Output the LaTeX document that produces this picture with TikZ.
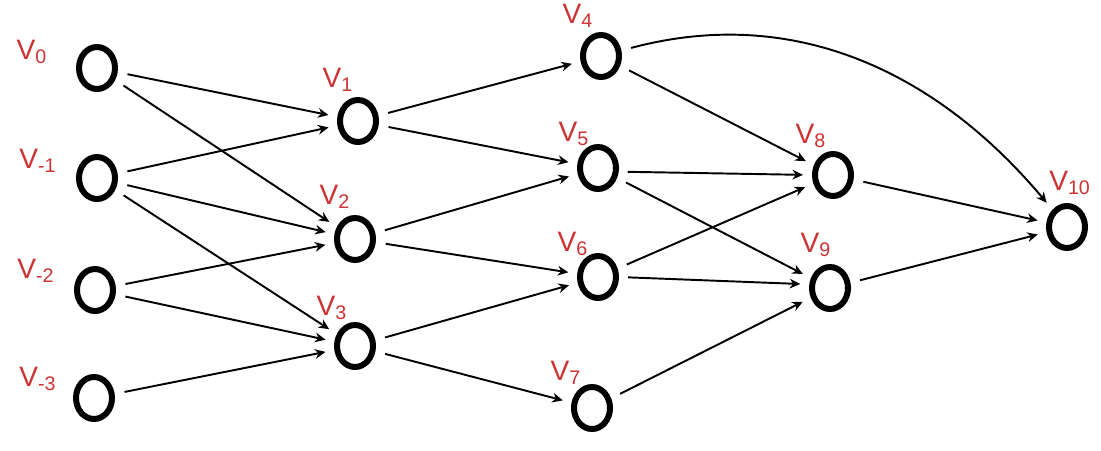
\documentclass[tikz,border=0pt]{standalone}
\usepackage{fontspec}
\setmainfont{Liberation Sans}
\usetikzlibrary{shapes.geometric,arrows.meta}
\definecolor{lblred}{RGB}{205,50,50}
\tikzset{
  vtx/.style={ellipse,draw=black,line width=0.12cm,minimum width=0.72cm,minimum height=0.84cm,inner sep=0pt},
  lbl/.style={text=lblred,font=\fontsize{16}{16}\selectfont,inner sep=0pt},
  edge/.style={line width=1.1pt,-{Stealth[length=6pt,width=5.5pt]},shorten <=0.2cm,shorten >=0.18cm}
}
\begin{document}
\begin{tikzpicture}[x=0.02cm,y=-0.02cm]
\useasboundingbox (0,0) rectangle (1101,450);
% vertices
\node[vtx] (Vm0) at (97,68) {};
\node[vtx] (Vm1) at (97,178) {};
\node[vtx] (Vm2) at (95,290) {};
\node[vtx] (Vm3) at (94,398) {};
\node[vtx] (V1) at (358,121) {};
\node[vtx] (V2) at (355,239) {};
\node[vtx] (V3) at (355,346) {};
\node[vtx] (V4) at (601,56) {};
\node[vtx] (V5) at (598,168) {};
\node[vtx] (V6) at (598,277) {};
\node[vtx] (V7) at (592,408) {};
\node[vtx] (V8) at (833,175) {};
\node[vtx] (V9) at (830,288) {};
\node[vtx] (V10) at (1067,227) {};
% labels
\node[lbl] (L0) at (32,52) {V\textsubscript{0}};
\node[lbl] (Lm1) at (38,161) {V\textsubscript{-1}};
\node[lbl] (Lm2) at (36,271) {V\textsubscript{-2}};
\node[lbl] (Lm3) at (38,379) {V\textsubscript{-3}};
\node[lbl] (L1) at (338,80) {V\textsubscript{1}};
\node[lbl] (L2) at (335,197) {V\textsubscript{2}};
\node[lbl] (L3) at (332,308) {V\textsubscript{3}};
\node[lbl] (L4) at (578,16) {V\textsubscript{4}};
\node[lbl] (L5) at (574,134) {V\textsubscript{5}};
\node[lbl] (L6) at (573,244) {V\textsubscript{6}};
\node[lbl] (L7) at (566,373) {V\textsubscript{7}};
\node[lbl] (L8) at (811,136) {V\textsubscript{8}};
\node[lbl] (L9) at (816,245) {V\textsubscript{9}};
\node[lbl] (L10) at (1070,183) {V\textsubscript{10}};
% edges
\draw[edge] (Vm0) -- (V1);
\draw[edge] (Vm0) -- (V2);
\draw[edge] (Vm1) -- (V1);
\draw[edge] (Vm1) -- (V2);
\draw[edge] (Vm1) -- (V3);
\draw[edge] (Vm2) -- (V2);
\draw[edge] (Vm2) -- (V3);
\draw[edge] (Vm3) -- (V3);
\draw[edge] (V1) -- (V4);
\draw[edge] (V1) -- (V5);
\draw[edge] (V2) -- (V5);
\draw[edge] (V2) -- (V6);
\draw[edge] (V3) -- (V6);
\draw[edge] (V3) -- (V7);
\draw[edge] (V4) -- (V8);
\draw[edge] (V4) to[out=15,in=130] (V10);
\draw[edge,shorten <=0.18cm] (V5.-10) -- (V8.west);
\draw[edge] (V5) -- (V9);
\draw[edge] (V6) -- (V8);
\draw[edge,shorten <=0.18cm] (V6.east) -- (V9.170);
\draw[edge] (V7) -- (V9);
\draw[edge] (V8) -- (V10);
\draw[edge] (V9) -- (V10);
\end{tikzpicture}
\end{document}
